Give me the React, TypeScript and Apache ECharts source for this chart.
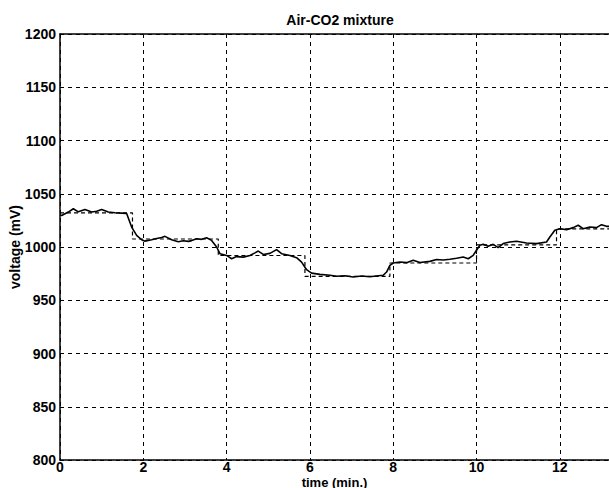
import React, { useEffect, useRef } from "react";
import * as echarts from "echarts";

const titleText = "Air-CO2 mixture";
const xName = "time (min.)";
const yName = "voltage (mV)";

// measured voltage (solid)
const measTime = [
  0.0, 0.04, 0.2, 0.32, 0.44, 0.6, 0.76, 0.88, 1.0, 1.16, 1.32, 1.48, 1.6, 1.72, 1.84, 1.96, 2.04, 2.2, 2.32,
  2.44, 2.52, 2.68, 2.84, 2.96, 3.08, 3.16, 3.28, 3.4, 3.52, 3.64, 3.76, 3.84, 4.0, 4.12, 4.24, 4.4, 4.56,
  4.68, 4.76, 4.88, 5.04, 5.2, 5.32, 5.52, 5.68, 5.8, 5.92, 6.04, 6.24, 6.48, 6.64, 6.84, 7.04, 7.24, 7.44,
  7.64, 7.76, 7.84, 7.92, 8.0, 8.16, 8.32, 8.48, 8.64, 8.88, 9.04, 9.2, 9.36, 9.52, 9.68, 9.8, 9.92, 10.0,
  10.08, 10.16, 10.28, 10.4, 10.52, 10.64, 10.8, 10.96, 11.2, 11.44, 11.68, 11.76, 11.88, 12.0, 12.16,
  12.32, 12.44, 12.56, 12.72, 12.88, 13.0, 13.12, 13.2,
];
const measVolt = [
  1030, 1029.6, 1032.8, 1035.9, 1033, 1035.3, 1032.8, 1033.5, 1035.3, 1032.8, 1032.2, 1031.8, 1031.5, 1018.7,
  1010.9, 1006.8, 1005.5, 1006.8, 1008, 1009, 1010, 1006.8, 1005, 1005.8, 1005.3, 1006, 1007.8, 1007.2, 1008.7,
  1006.2, 1000, 993.7, 992.1, 989, 991, 990.5, 992, 994.5, 996.2, 993, 994, 997.5, 993.7, 992.1, 990, 985.8,
  978.7, 975.5, 974.3, 973.5, 972.5, 973, 971.8, 972.8, 972, 973, 973.5, 976.5, 982.8, 985, 985.9, 985.3,
  987.5, 985.5, 986.5, 988.2, 987.8, 988.5, 989.5, 990.6, 989, 992.2, 996.9, 1001.6, 1002.5, 1000.7, 1002.5,
  999.4, 1003.2, 1004.7, 1005.4, 1003.8, 1003.2, 1004.7, 1009.4, 1015.7, 1017.2, 1016.3, 1018.2, 1020.4,
  1017.2, 1018.8, 1018.2, 1021, 1019.4, 1019.4,
];

// reference step (dashed)
const refTime = [0, 1.74, 1.74, 3.8, 3.8, 5.88, 5.88, 7.92, 7.92, 10.0, 10.0, 11.92, 11.92, 13.2];
const refVolt = [1032, 1032, 1007.5, 1007.5, 992, 992, 972.5, 972.5, 985, 985, 1002, 1002, 1017, 1017];

const xMin = 0;
const xMax = 13.18;
const xStep = 2;
const yMin = 800;
const yMax = 1200;
const yStep = 50;

const FONT = "Liberation Sans, Arial, sans-serif";

export default function App() {
  const ref = useRef<HTMLDivElement>(null);
  useEffect(() => {
    if (!ref.current) return;
    const chart = echarts.init(ref.current, undefined, { renderer: "svg" });
    const measured = measTime.map((t, i) => [t, measVolt[i]]);
    const reference = refTime.map((t, i) => [t, refVolt[i]]);
    const gridLine = { show: true, lineStyle: { color: "#000", type: [4, 4] as any, width: 1 } };
    const labelStyle = { color: "#000", fontFamily: FONT, fontSize: 14, fontWeight: "bold" as const };
    chart.setOption({
      animation: false,
      backgroundColor: "#fff",
      title: {
        text: titleText,
        left: 335,
        textAlign: "center",
        top: 8,
        textStyle: { color: "#000", fontFamily: FONT, fontSize: 14, fontWeight: "bold" },
      },
      grid: { left: 60, right: 0, top: 34, bottom: 28, containLabel: false, outerBoundsMode: "none" },
      xAxis: [
        {
          type: "value",
          min: xMin,
          max: xMax,
          interval: xStep,
          name: xName,
          nameLocation: "middle",
          nameGap: 16,
          nameMoveOverlap: false,
          nameTextStyle: { ...labelStyle, fontSize: 13, lineHeight: 12 },
          axisLine: { show: true, lineStyle: { color: "#000", width: 1.5 } },
          axisTick: { show: false },
          axisLabel: {
            ...labelStyle,
            lineHeight: 12,
            margin: 1,
            showMaxLabel: false,
            formatter: (v: number) => String(v),
          },
          splitLine: gridLine,
        },
        {
          type: "value",
          position: "top",
          min: xMin,
          max: xMax,
          interval: xStep,
          axisLine: { show: true, lineStyle: { color: "#000", width: 1.5 } },
          axisTick: { show: false },
          axisLabel: { show: false },
          splitLine: { show: false },
        },
      ],
      yAxis: {
        type: "value",
        min: yMin,
        max: yMax,
        interval: yStep,
        name: yName,
        nameLocation: "middle",
        nameGap: 38,
        nameMoveOverlap: false,
        nameTextStyle: labelStyle,
        axisLine: { show: true, lineStyle: { color: "#000", width: 1.5 } },
        axisTick: { show: false },
        axisLabel: { ...labelStyle, margin: 4, formatter: (v: number) => String(v) },
        splitLine: gridLine,
      },
      series: [
        {
          type: "line",
          data: reference,
          showSymbol: false,
          lineStyle: { color: "#000", width: 1.2, type: [4, 3] as any },
          z: 3,
        },
        {
          type: "line",
          data: measured,
          showSymbol: false,
          lineStyle: { color: "#000", width: 1.6 },
          z: 4,
        },
      ],
    });
    return () => chart.dispose();
  }, []);
  return (
    <div
      ref={ref}
      style={{ position: "absolute", left: 0, top: 0, width: 609, height: 488, background: "#fff" }}
    />
  );
}
